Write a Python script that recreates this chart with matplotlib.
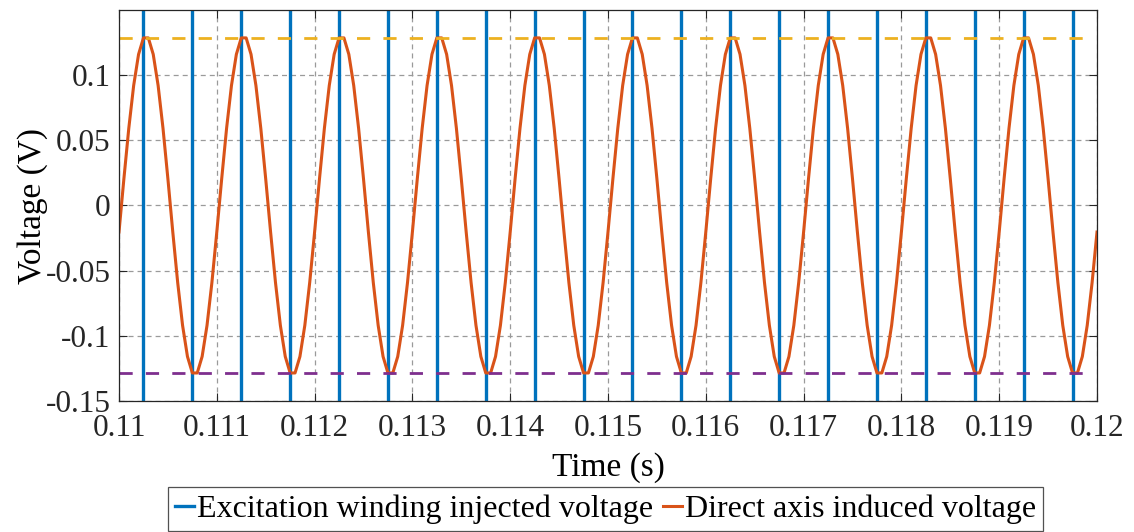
import matplotlib as mpl

mpl.use("Agg")
import matplotlib.pyplot as plt
import numpy as np

#
# --- Excitation winding square wave: switching instants (s) and levels (V)
#
exc_time = [0.11, 0.11025, 0.11075, 0.11125, 0.11175, 0.11225, 0.11275,
            0.11325, 0.11375, 0.11425, 0.11475, 0.11525, 0.11575, 0.11625,
            0.11675, 0.11725, 0.11775, 0.11825, 0.11875, 0.11925, 0.11975,
            0.12]
exc_volt = [-12, 12, -12, 12, -12, 12, -12, 12, -12, 12, -12, 12, -12, 12,
            -12, 12, -12, 12, -12, 12, -12, -12]

#
# --- Direct axis induced voltage, sampled every 0.05 ms (one row per half period)
#
t_start = 0.11
t_step = 0.00005
d_volt = [
    -0.0204, 0.0204, 0.0591, 0.0920, 0.1159, 0.1285, 0.1285, 0.1159, 0.0920, 0.0591,
    0.0204, -0.0204, -0.0591, -0.0920, -0.1159, -0.1285, -0.1285, -0.1159, -0.0920, -0.0591,
    -0.0204, 0.0204, 0.0591, 0.0920, 0.1159, 0.1285, 0.1285, 0.1159, 0.0920, 0.0591,
    0.0204, -0.0204, -0.0591, -0.0920, -0.1159, -0.1285, -0.1285, -0.1159, -0.0920, -0.0591,
    -0.0204, 0.0204, 0.0591, 0.0920, 0.1159, 0.1285, 0.1285, 0.1159, 0.0920, 0.0591,
    0.0204, -0.0204, -0.0591, -0.0920, -0.1159, -0.1285, -0.1285, -0.1159, -0.0920, -0.0591,
    -0.0204, 0.0204, 0.0591, 0.0920, 0.1159, 0.1285, 0.1285, 0.1159, 0.0920, 0.0591,
    0.0204, -0.0204, -0.0591, -0.0920, -0.1159, -0.1285, -0.1285, -0.1159, -0.0920, -0.0591,
    -0.0204, 0.0204, 0.0591, 0.0920, 0.1159, 0.1285, 0.1285, 0.1159, 0.0920, 0.0591,
    0.0204, -0.0204, -0.0591, -0.0920, -0.1159, -0.1285, -0.1285, -0.1159, -0.0920, -0.0591,
    -0.0204, 0.0204, 0.0591, 0.0920, 0.1159, 0.1285, 0.1285, 0.1159, 0.0920, 0.0591,
    0.0204, -0.0204, -0.0591, -0.0920, -0.1159, -0.1285, -0.1285, -0.1159, -0.0920, -0.0591,
    -0.0204, 0.0204, 0.0591, 0.0920, 0.1159, 0.1285, 0.1285, 0.1159, 0.0920, 0.0591,
    0.0204, -0.0204, -0.0591, -0.0920, -0.1159, -0.1285, -0.1285, -0.1159, -0.0920, -0.0591,
    -0.0204, 0.0204, 0.0591, 0.0920, 0.1159, 0.1285, 0.1285, 0.1159, 0.0920, 0.0591,
    0.0204, -0.0204, -0.0591, -0.0920, -0.1159, -0.1285, -0.1285, -0.1159, -0.0920, -0.0591,
    -0.0204, 0.0204, 0.0591, 0.0920, 0.1159, 0.1285, 0.1285, 0.1159, 0.0920, 0.0591,
    0.0204, -0.0204, -0.0591, -0.0920, -0.1159, -0.1285, -0.1285, -0.1159, -0.0920, -0.0591,
    -0.0204, 0.0204, 0.0591, 0.0920, 0.1159, 0.1285, 0.1285, 0.1159, 0.0920, 0.0591,
    0.0204, -0.0204, -0.0591, -0.0920, -0.1159, -0.1285, -0.1285, -0.1159, -0.0920, -0.0591,
    -0.0204,
]

#
# --- Envelope limits (dashed) and their time span
#
env_max = 0.1285
env_min = -0.1285
env_span = [0.11, 0.1199]

xticks = [0.11, 0.111, 0.112, 0.113, 0.114, 0.115, 0.116, 0.117, 0.118, 0.119, 0.12]
xtick_labels = ["0.11", "0.111", "0.112", "0.113", "0.114", "0.115", "0.116",
                "0.117", "0.118", "0.119", "0.12"]
yticks = [-0.15, -0.1, -0.05, 0, 0.05, 0.1]
ytick_labels = ["-0.15", "-0.1", "-0.05", "0", "0.05", "0.1"]

labels = ["Excitation winding injected voltage", "Direct axis induced voltage"]
colors = ["#0072BD", "#D95319", "#EDB120", "#7E2F8E"]

plt.rcParams["font.family"] = ["Liberation Serif", "DejaVu Serif"]
plt.rcParams["lines.scale_dashes"] = False

fig = plt.figure(figsize=(11.34, 5.32), dpi=100)
ax = fig.add_axes([119 / 1134, 1 - 401 / 532, (1097 - 119) / 1134, (401 - 10) / 532])

d_time = t_start + t_step * np.arange(len(d_volt))

ax.plot(exc_time, exc_volt, drawstyle="steps-post", color=colors[0], lw=2.4,
        label=labels[0])
ax.plot(d_time, d_volt, color=colors[1], lw=2.2, label=labels[1])
ax.plot(env_span, [env_max, env_max], color=colors[2], lw=2.0,
        linestyle=(0, (9.5, 9.5)))
ax.plot(env_span, [env_min, env_min], color=colors[3], lw=2.0,
        linestyle=(0, (9.5, 9.5)))

ax.set_xlim(0.11, 0.12)
ax.set_ylim(-0.15, 0.1499)
ax.set_xticks(xticks)
ax.set_xticklabels(xtick_labels)
ax.set_yticks(yticks)
ax.set_yticklabels(ytick_labels)

ax.tick_params(direction="in", length=6, width=0.8, top=True, right=True,
               labelsize=22.5, colors="#262626")
ax.tick_params(axis="x", pad=9)
ax.tick_params(axis="y", pad=6)
for s in ax.spines.values():
    s.set_color("#262626")
    s.set_linewidth(0.9)

ax.grid(True, color="#9a9a9a", lw=0.9, linestyle=(0, (3.6, 2.9)))
ax.set_axisbelow(True)

ax.set_xlabel("Time (s)", fontsize=24, labelpad=7)
ax.set_ylabel("Voltage (V)", fontsize=24, labelpad=-1.5)

leg = ax.legend(loc="lower center", bbox_to_anchor=(0.4975, -0.3325), ncol=2,
                fontsize=23.0, frameon=True, fancybox=False, edgecolor="#262626",
                handlelength=0.6, handletextpad=0.1, columnspacing=0.3,
                borderpad=0.22, borderaxespad=0)
leg.get_frame().set_linewidth(0.9)

fig.savefig("out.png", dpi=100)
